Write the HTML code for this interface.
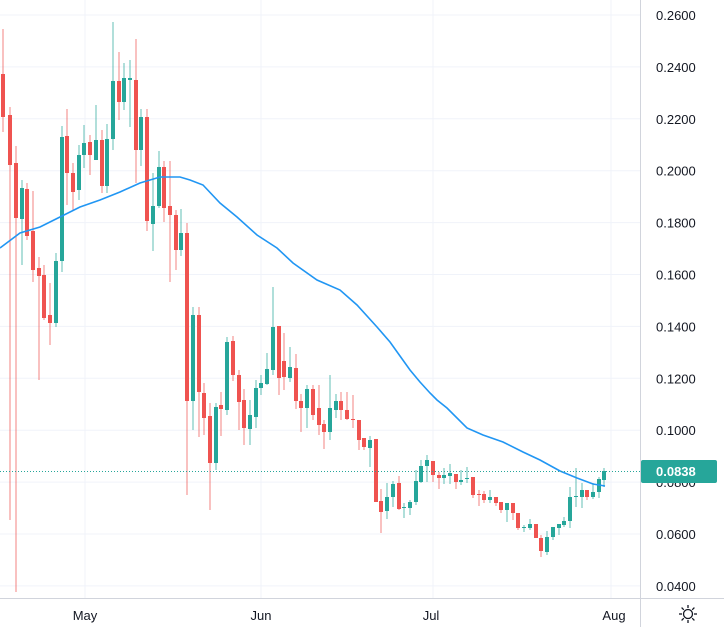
<!DOCTYPE html>
<html><head><meta charset="utf-8"><style>
html,body{margin:0;padding:0;background:#fff;width:724px;height:627px;overflow:hidden}
svg{display:block}
text{font-family:"Liberation Sans",sans-serif;font-size:13px;fill:#131722}
</style></head><body>
<svg id="s" width="724" height="627" xmlns="http://www.w3.org/2000/svg"></svg>
<script>
var s=document.getElementById('s'),h='';
var lv=[.26,.24,.22,.20,.18,.16,.14,.12,.10,.08,.06,.04];
lv.forEach(function(v){var y=15+(0.26-v)/0.02*51.9;h+='<line x1="0" x2="640" y1="'+y.toFixed(1)+'" y2="'+y.toFixed(1)+'" stroke="#f0f3fa"/>';
h+='<text x="656" y="'+(y+5).toFixed(1)+'">'+v.toFixed(4)+'</text>';});
[85,261,433,611].forEach(function(x){h+='<line x1="'+x+'" x2="'+x+'" y1="0" y2="598" stroke="#f0f3fa"/>';});
var c=[
[3,'r',74,117,29,132],[10,'r',115,165,107,520],[16,'r',163,218,146,592],[22,'g',188,219,180,265],[27,'r',189,236,183,240],[33,'r',231,270,191,282],[39,'r',268,276,257,380],[44,'r',275,318,265,320],[50,'r',315,323,283,345],[56,'g',261,323,253,327],[62,'g',137,261,126,272],[67,'r',136,173,109,205],[73,'r',173,192,163,210],[79,'g',155,190,145,200],[84,'g',143,155,125,168],[90,'r',142,155,135,175],[96,'g',140,160,105,160],[102,'r',140,186,130,193],[107,'g',139,186,124,193],[113,'g',81,139,22,150],[119,'r',81,102,52,120],[124,'g',78,102,63,110],[130,'g',78,80,60,127],[136,'r',80,150,39,183],[141,'g',117,150,109,166],[147,'r',117,221,109,231],[153,'g',206,224,173,251],[159,'g',167,206,151,208],[164,'r',167,208,161,222],[170,'r',206,215,161,282],[176,'r',215,250,210,270],[181,'g',233,250,209,256],[187,'r',233,401,223,495],
[193,'g',315,401,307,430],[199,'r',315,392,307,437],[204,'r',393,418,383,435],[210,'r',416,463,403,510],[216,'g',407,463,403,470],[221,'r',405,409,392,436],[227,'g',342,410,337,415],[233,'r',341,375,336,381],[239,'r',375,402,370,430],[244,'r',400,428,389,445],[250,'g',415,429,400,445],[256,'g',388,417,380,428],[261,'g',383,388,375,395],[267,'g',369,384,353,385],[273,'g',327,370,287,375],[279,'r',326,378,326,395],[284,'r',361,377,333,390],[290,'g',367,378,347,382],[296,'r',368,401,354,409],[301,'r',401,408,394,432],[307,'g',389,408,385,428],[313,'r',389,415,385,420],[319,'r',408,425,385,435],[324,'r',424,432,420,449],[330,'g',408,432,375,440],[336,'g',401,410,394,418],[341,'r',401,410,392,420],[347,'r',410,419,392,420],[353,'r',419,420,395,428],[359,'r',420,440,420,450],[364,'r',438,447,438,450],[370,'g',440,448,436,467],[376,'r',439,502,439,502],
[381,'r',501,512,489,533],[387,'g',497,511,483,519],[393,'g',484,497,481,507],[399,'r',483,509,476,510],[404,'g',507,508,503,518],[410,'g',502,508,500,515],[416,'g',481,502,470,505],[421,'g',466,482,460,483],[427,'g',460,466,455,482],[433,'r',461,475,461,482],[439,'r',475,478,472,489],[444,'g',475,478,468,484],[450,'g',473,476,464,484],[456,'r',474,482,474,489],[461,'g',480,482,470,485],[467,'g',478,479,467,483],[473,'r',477,495,477,498],[479,'r',494,495,490,506],[484,'r',494,500,491,503],[490,'g',497,500,490,503],[496,'r',497,503,497,506],[501,'r',502,510,502,513],[507,'g',503,510,503,522],[513,'r',503,513,503,520],[518,'r',513,528,513,530],[524,'g',527,528,525,532],[530,'g',524,528,519,530],[536,'r',524,538,524,538],[541,'r',538,551,535,557],[547,'g',537,552,531,555],[553,'g',527,537,527,540],[559,'g',524,528,524,535],[564,'g',521,525,517,527],[570,'g',497,521,487,528],[576,'g',496,497,468,507],[582,'g',490,497,483,508],[587,'r',490,497,490,500],[593,'g',492,497,483,499],[599,'g',479,492,477,498],[604,'g',471,480,468,487]];
c.forEach(function(d){var col=d[1]=='r'?'#ef5350':'#26a69a';
h+='<line x1="'+d[0]+'" x2="'+d[0]+'" y1="'+d[4]+'" y2="'+d[5]+'" stroke="'+col+'" stroke-opacity="0.6" stroke-width="1.2"/>';
var hh=Math.max(1,d[3]-d[2]);h+='<rect x="'+(d[0]-2)+'" y="'+d[2]+'" width="4" height="'+hh+'" fill="'+col+'"/>';});
var ma=[[0,248],[20,233],[40,227],[60,217],[80,207],[100,200],[120,192],[140,183],[160,177],[180,177],[190,180],[203,185],[220,203],[237,217],[257,235],[277,248],[293,263],[317,280],[340,290],[357,305],[377,327],[390,342],[400,356],[410,370],[420,382],[430,393],[437,400],[447,408],[467,428],[483,435],[503,442],[523,452],[540,460],[560,471],[577,478],[593,484],[605,486]];
h+='<polyline fill="none" stroke="#2196f3" stroke-width="1.6" points="'+ma.map(function(p){return p.join(',')}).join(' ')+'"/>';
h+='<line x1="0" x2="640" y1="471.5" y2="471.5" stroke="#26a69a" stroke-dasharray="1,2"/>';
h+='<line x1="640.5" x2="640.5" y1="0" y2="627" stroke="#d1d4dc"/><line x1="0" x2="724" y1="598.5" y2="598.5" stroke="#d1d4dc"/>';
h+='<rect x="641" y="460" width="76" height="23" rx="2" fill="#26a69a"/><text x="656" y="476" style="fill:#fff;font-weight:bold">0.0838</text>';
[['May',85],['Jun',261],['Jul',431],['Aug',614]].forEach(function(m){h+='<text x="'+m[1]+'" y="620" text-anchor="middle">'+m[0]+'</text>';});
h+='<g transform="translate(688,614)" fill="none" stroke="#131722" stroke-width="1.3"><circle r="4.5"/>';
for(var i=0;i<8;i++){var a=i*Math.PI/4;h+='<line x1="'+(6*Math.cos(a)).toFixed(1)+'" y1="'+(6*Math.sin(a)).toFixed(1)+'" x2="'+(9*Math.cos(a)).toFixed(1)+'" y2="'+(9*Math.sin(a)).toFixed(1)+'"/>';}
h+='</g>';
s.innerHTML=h;
</script>
</body></html>
